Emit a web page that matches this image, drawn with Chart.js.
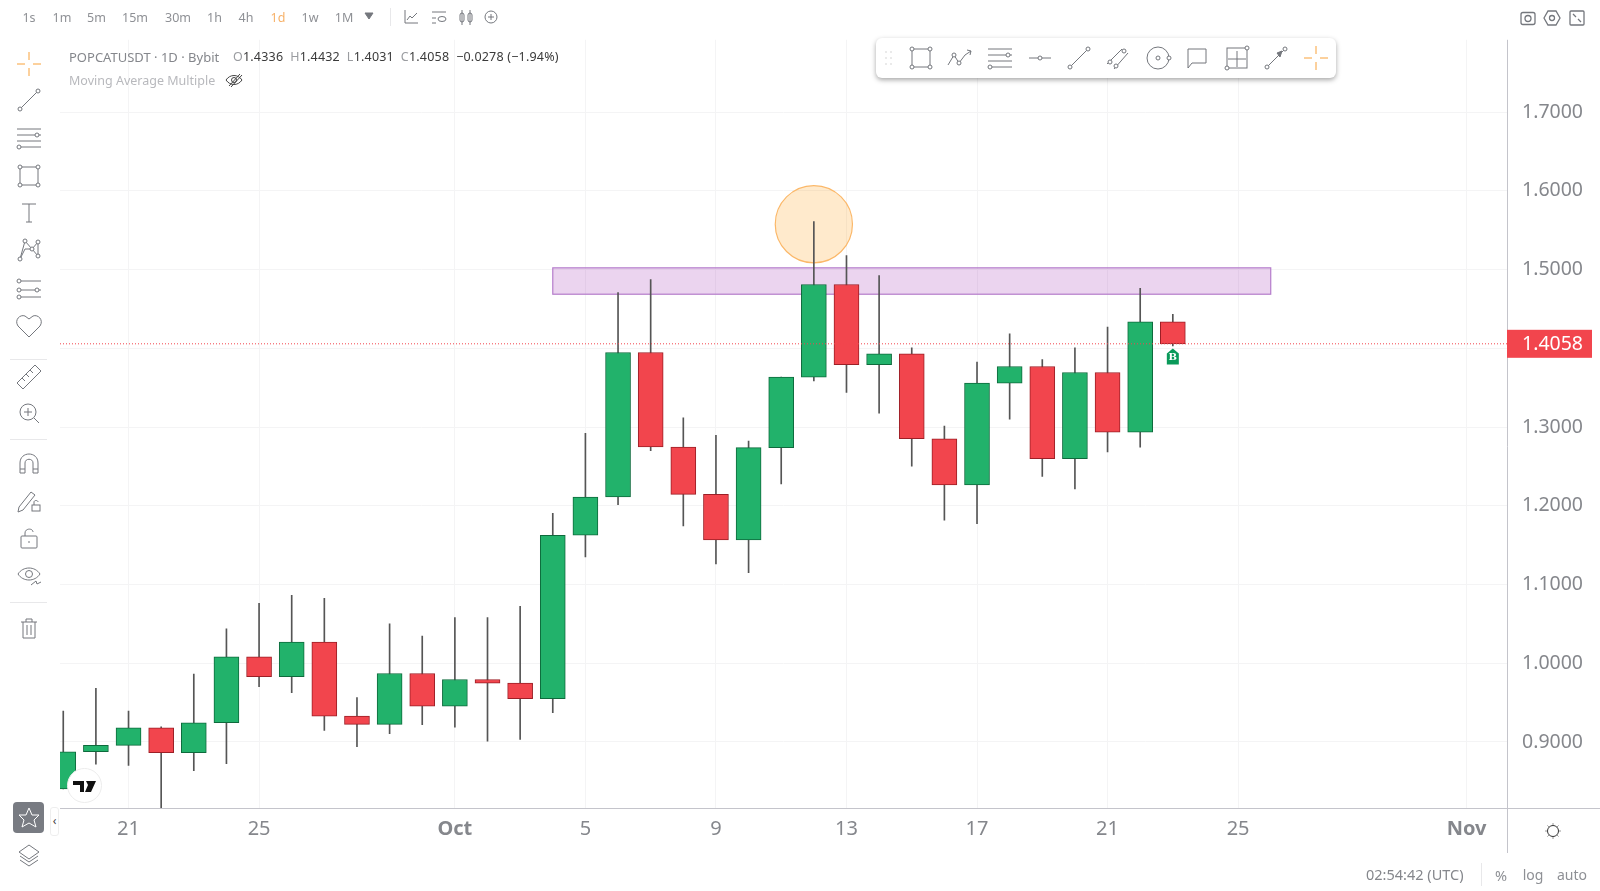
<!DOCTYPE html>
<html>
<head>
<meta charset="utf-8">
<title>POPCATUSDT</title>
<script src="https://cdn.jsdelivr.net/npm/chart.js@4"></script>
<style>
  html, body { margin: 0; padding: 0; background: #fff; overflow: hidden; }
  #wrap { position: relative; width: 1600px; height: 891px; font-family: "Noto Sans", sans-serif; }
  canvas { display: block; }
  .t { position: absolute; white-space: nowrap; line-height: 1; transform: translate(-50%, -50%); color: #8e9095; font-size: 12.5px; }
  .l { position: absolute; white-space: nowrap; line-height: 1; transform: translateY(-50%); font-size: 13px; color: #85878c; }
  .l b { font-weight: 400; color: #9a9ca0; }
  .l span { color: #3a3a3a; }
  .sep { position: absolute; background: #e8e8ea; }
  svg.i { position: absolute; overflow: visible; fill: none; stroke: #74777d; stroke-width: 1; }
  #tools { position: absolute; left: 876px; top: 38px; width: 460px; height: 40px; background: #fff; border-radius: 6px; box-shadow: 0 2px 5px rgba(0,0,0,.35); }
  #star { position: absolute; left: 13px; top: 802px; width: 31px; height: 31px; background: #787b82; border-radius: 4px; }
  #fold { position: absolute; left: 50px; top: 807px; width: 7px; height: 27px; background: #fff; border: 1px solid #eee; border-radius: 3px; font-size: 12px; line-height: 25px; text-align: center; color: #444; }
  #logo { position: absolute; left: 67px; top: 768px; width: 33px; height: 33px; background: #fff; border: 1px solid #ececec; border-radius: 50%; }
</style>
</head>
<body>
<div id="wrap">
  <canvas id="chart" width="1600" height="891"></canvas>
  <div class="l" style="left:69px;top:56.5px">POPCATUSDT · 1D · Bybit</div>
  <div class="l" style="left:233px;top:57px;font-size:12.5px;letter-spacing:.2px"><b>O</b><span>1.4336</span> <b>&nbsp;H</b><span>1.4432</span> <b>&nbsp;L</b><span>1.4031</span> <b>&nbsp;C</b><span>1.4058</span> <span>&nbsp;−0.0278 (−1.94%)</span></div>
  <div class="l" style="left:69px;top:80.5px;font-size:12.5px;color:#b8b9bd">Moving Average Multiple</div>
  <div id="tools"></div>
  <div id="star"></div>
  <div id="fold">‹</div>
  <div id="logo"></div>
</div>
<script>
// candles, one per day starting 19 Sep
const opens = [0.8402,0.8876,0.8956,0.9180,0.8863,0.9244,1.0081,0.9828,1.0268,0.9329,0.9223,0.9870,0.9455,0.9794,0.9747,0.9549,1.1626,1.2112,1.3948,1.2747,1.2146,1.1567,1.2739,1.3635,1.4811,1.3792,1.3931,1.2852,1.2264,1.3558,1.3770,1.2598,1.3694,1.2937,1.4336];
const closes = [0.8876,0.8956,0.9180,0.8863,0.9244,1.0081,0.9828,1.0268,0.9329,0.9223,0.9870,0.9455,0.9794,0.9747,0.9549,1.1626,1.2112,1.3948,1.2747,1.2146,1.1567,1.2739,1.3635,1.4811,1.3792,1.3931,1.2852,1.2264,1.3558,1.3770,1.2598,1.3694,1.2937,1.4336,1.4058];
const highs = [0.9392,0.9680,0.9392,0.9193,0.9862,1.0437,1.0761,1.0864,1.0825,0.9565,1.0502,1.0346,1.0579,1.0579,1.0722,1.1905,1.2920,1.4710,1.4875,1.3119,1.2895,1.2823,1.3635,1.5611,1.5179,1.4926,1.4008,1.3013,1.3825,1.4184,1.3859,1.4007,1.4269,1.4764,1.4432];
const lows = [0.8402,0.8719,0.8702,0.8000,0.8635,0.8724,0.9701,0.9625,0.9147,0.8939,0.9104,0.9219,0.9189,0.9011,0.9032,0.9371,1.1351,1.2015,1.2700,1.1744,1.1262,1.1152,1.2277,1.3585,1.3441,1.3178,1.2502,1.1816,1.1773,1.3102,1.2374,1.2213,1.2683,1.2746,1.4031];

const priceTicks = [0.9,1.0,1.1,1.2,1.3,1.4,1.5,1.6,1.7];
const dayTicks = [2,6,12,16,20,24,28,32,36,43];
const dayLabels = ['21','25','Oct','5','9','13','17','21','25','Nov'];

const zoneDays = [15,37];
const zonePrices = [1.4688,1.5023];
const circleDay = [23];
const circlePrice = [1.5577];
const lastPrice = 1.4058;
const buyDay = 34;

const xMin = -0.1, xMax = 44.24, yMin = 0.8161, yMax = 1.792;
const GREEN = '#22b26b', RED = '#f2454d';
const isUp = opens.map((o,i) => closes[i] >= o);

const overlayPlugin = {
  id: 'overlay',
  beforeDatasetsDraw(chart) {
    const { ctx, scales: { x, y } } = chart;
    const left = x.getPixelForValue(zoneDays[0]), right = x.getPixelForValue(zoneDays[1]);
    const top = y.getPixelForValue(zonePrices[1]), bottom = y.getPixelForValue(zonePrices[0]);
    ctx.save();
    ctx.fillStyle = 'rgba(156,39,176,0.2)';
    ctx.fillRect(left, top, right-left, bottom-top);
    ctx.strokeStyle = '#b57ccb';
    ctx.lineWidth = 1.2;
    ctx.strokeRect(left, top, right-left, bottom-top);
    ctx.restore();
  },
  afterDatasetsDraw(chart) {
    const { ctx, scales: { x, y } } = chart;
    ctx.save();
    // buy marker under the last candle
    const bx = x.getPixelForValue(buyDay), by = y.getPixelForValue(lows[buyDay]) + 3.5;
    ctx.fillStyle = '#0a9a5a';
    ctx.beginPath();
    ctx.moveTo(bx, by-1);
    ctx.lineTo(bx+6, by+4);
    ctx.lineTo(bx+6, by+15);
    ctx.lineTo(bx-6, by+15);
    ctx.lineTo(bx-6, by+4);
    ctx.closePath();
    ctx.fill();
    ctx.fillStyle = '#fff';
    ctx.font = 'bold 10px "DejaVu Serif"';
    ctx.textAlign = 'center';
    ctx.textBaseline = 'middle';
    ctx.fillText('B', bx, by+8);
    ctx.restore();
  },
  afterDraw(chart) {
    const { ctx, chartArea: a, scales: { y } } = chart;
    ctx.save();
    ctx.strokeStyle = '#c4c4cb';
    ctx.lineWidth = 1;
    ctx.beginPath();
    ctx.moveTo(a.right+0.5, a.top);
    ctx.lineTo(a.right+0.5, 853);
    ctx.moveTo(a.left, a.bottom+0.5);
    ctx.lineTo(1600, a.bottom+0.5);
    ctx.stroke();
    // last price tag on the axis
    const py = y.getPixelForValue(lastPrice);
    ctx.fillStyle = RED;
    ctx.fillRect(a.right, py-14, 85, 28);
    ctx.fillStyle = '#fff';
    ctx.font = '19.5px "Noto Sans"';
    ctx.textAlign = 'left';
    ctx.textBaseline = 'middle';
    ctx.fillText(lastPrice.toFixed(4), a.right+15, py+1);
    ctx.restore();
  }
};

new Chart(document.getElementById('chart').getContext('2d'), {
  type: 'bar',
  data: {
    datasets: [
      {
        type: 'line',
        data: [{x:xMin,y:lastPrice},{x:xMax,y:lastPrice}],
        borderColor: RED,
        borderWidth: 1,
        borderDash: [1,2],
        pointRadius: 0,
        order: 0,
      },
      {
        data: opens.map((o,i) => ({x:i,y:[o,closes[i]]})),
        backgroundColor: isUp.map(u => u ? GREEN : RED),
        borderColor: isUp.map(u => u ? '#0e6a3c' : '#9c1f26'),
        borderWidth: 1,
        borderSkipped: false,
        barThickness: 25,
        grouped: false,
        order: 2,
      },
      {
        data: lows.map((l,i) => ({x:i,y:[l,highs[i]]})),
        backgroundColor: '#555',
        borderWidth: 0,
        barThickness: 1,
        grouped: false,
        order: 3,
      },
      {
        type: 'scatter',
        data: circleDay.map((d,i) => ({x:d,y:circlePrice[i]})),
        pointRadius: 38.6,
        pointHoverRadius: 38.6,
        backgroundColor: 'rgba(255,152,0,0.2)',
        borderColor: '#fbb869',
        borderWidth: 1.2,
        order: 4,
      },
    ],
  },
  options: {
    responsive: false,
    animation: false,
    devicePixelRatio: 1,
    layout: { padding: { left: 60, top: 39, right: 0, bottom: 0 } },
    plugins: { legend: { display: false }, tooltip: { enabled: false } },
    scales: {
      x: {
        type: 'linear',
        min: xMin,
        max: xMax,
        offset: false,
        afterBuildTicks: axis => { axis.ticks = dayTicks.map(v => ({value:v})); },
        afterFit: axis => { axis.height = 83; },
        grid: { color: '#f4f4f5', offset: false, drawTicks: false },
        border: { display: false },
        ticks: {
          autoSkip: false,
          maxRotation: 0,
          padding: 9,
          color: '#85878c',
          font: ctx => ({ family: 'Noto Sans', size: 20, weight: dayLabels[ctx.index] === 'Oct' || dayLabels[ctx.index] === 'Nov' ? 'bold' : 'normal' }),
          callback: (v,i) => dayLabels[i],
        },
      },
      y: {
        position: 'right',
        min: yMin,
        max: yMax,
        afterBuildTicks: axis => { axis.ticks = priceTicks.map(v => ({value:v})); },
        afterFit: axis => { axis.width = 93; },
        grid: { color: '#f4f4f5', drawTicks: false },
        border: { display: false },
        ticks: {
          padding: 15,
          color: '#85878c',
          font: { family: 'Noto Sans', size: 19.5 },
          callback: v => v.toFixed(4),
        },
      },
    },
  },
  plugins: [overlayPlugin],
});

// page furniture around the chart
const wrap = document.getElementById('wrap');
const addText = (x,y,txt,cls,css) => {
  const d = document.createElement('div');
  d.className = cls;
  d.textContent = txt;
  d.style.cssText = `left:${x}px;top:${y}px;${css||''}`;
  wrap.appendChild(d);
};
const intervals = ['1s','1m','5m','15m','30m','1h','4h','1d','1w','1M'];
const intervalX = [29,62,96.5,135,178,214.5,246,278,310,344];
intervals.forEach((s,i) => addText(intervalX[i],18,s,'t', s === '1d' ? 'color:#f7b26a' : ''));
addText(1366,874,'02:54:42 (UTC)','l','font-size:14.5px;color:#85878c');
addText(1501,875,'%','t','font-size:14.5px');
addText(1533,875,'log','t','font-size:14px');
addText(1572,875,'auto','t','font-size:14px');

const sep = (x,y,w,h) => {
  const d = document.createElement('div');
  d.className = 'sep';
  d.style.cssText = `left:${x}px;top:${y}px;width:${w}px;height:${h}px`;
  wrap.appendChild(d);
};
sep(10,359,37,1); sep(10,439,37,1); sep(10,602,37,1); sep(1481,863,1,23); sep(390,8,1,18);

const dot = (x,y,r) => `<circle cx="${x}" cy="${y}" r="${r||2}" fill="#fff"/>`;
const ln = (a,b,c,d) => `<path d="M${a} ${b}L${c} ${d}"/>`;
const cross = ln(-12,0,-4,0)+ln(4,0,12,0)+ln(0,-12,0,-4)+ln(0,4,0,12);
const rect = '<rect x="-9" y="-9" width="18" height="18"/>'+dot(-9,-9)+dot(9,-9)+dot(-9,9)+dot(9,9);
const line = ln(-9,9,9,-9)+dot(-9,9)+dot(9,-9);
const lines = ln(-12,-9,12,-9)+ln(-12,-3,12,-3)+ln(-12,3,12,3)+ln(-12,9,12,9)+dot(8,-3)+dot(-10,9);
const paths = '<path d="M-12 7L-6 -3L-1 5L5 -3L11 -7"/><path d="M7 -8L11 -7L10 -3"/>'+dot(-6,-3)+dot(-1,5);
const icons = [
  [29,64,cross,'#f9a23b'], [29,100,line], [29,138,lines], [29,175.5,rect],
  [29,213,'<path d="M-7 -9H7M0 -9V9M-3 9H3"/>'],
  [29,250,'<path d="M-9 9L-4 -9L3 -1L9 -8L9 6L3 -1L-4 -1L-9 9"/>'+dot(-9,9)+dot(-4,-9)+dot(3,-1)+dot(9,-8)+dot(9,6)],
  [29,289,ln(-10,-8,12,-8)+ln(-10,1,12,1)+ln(-10,8,12,8)+dot(-10,-8)+dot(-10,1)+dot(8,1)+dot(-10,8)],
  [29,325.5,'<path d="M0 11L-11 0C-15 -6 -9 -12 -4 -10L0 -7L4 -10C9 -12 15 -6 11 0Z"/>'],
  [29,376.5,'<path d="M-12 6L6 -12L12 -6L-6 12Z"/>'+ln(-7,1,-4,4)+ln(-3,-3,0,0)+ln(1,-7,4,-4)],
  [29,413,'<circle cx="-1" cy="-1" r="8"/>'+ln(5,5,10,10)+ln(-5,-1,3,-1)+ln(-1,-5,-1,3)],
  [29,464,'<path d="M-9 9V-1C-9 -13 9 -13 9 -1V9H4V-1C4 -6 -4 -6 -4 -1V9Z"/>'+ln(-9,5,-4,5)+ln(4,5,9,5)],
  [29,501,'<path d="M-10 6L2 -9L6 -6L-6 9L-11 11Z"/>'+'<rect x="3" y="4" width="8" height="6"/><path d="M5 4V1C5 -1 9 -1 9 1"/>'],
  [29,539,'<rect x="-8" y="-3" width="16" height="12" rx="1"/><path d="M-4 -3V-6C-4 -11 4 -11 4 -7"/>'+ln(0,2,0,4)],
  [29,575.5,'<path d="M-11 -2C-6 -10 6 -10 11 -2C6 6 -6 6 -11 -2Z"/><circle cx="0" cy="-2" r="3.5"/><path d="M2 9L7 5L8 8L12 6"/>'],
  [29,627.5,'<path d="M-8 -6H8M-3 -6V-9H3V-6M-6 -6V10H6V-6M-2 -3V7M2 -3V7"/>'],
  [28.5,817.5,'<path d="M0 -10L3 -3L10 -3L5 2L7 9L0 5L-7 9L-5 2L-10 -3L-3 -3Z"/>','#fff'],
  [29,855,'<path d="M0 -10L10 -3L0 4L-10 -3ZM-9 1L0 7L9 1M-9 5L0 11L9 5"/>'],
  [234,80,'<path d="M-8 0C-4 -6 4 -6 8 0C4 6 -4 6 -8 0Z"/><circle r="2.5"/>'+ln(-5,6,6,-6)+ln(-3,7,8,-5),'#444'],
  [369,17,'<path d="M-4 -4H4L0 2Z" fill="#74777d"/>'],
  [411,17,'<path d="M-6 -7V6H7M-4 3L-1 -1L1 1L6 -4"/>'],
  [439,17,'<path d="M-7 -5H7M-7 1H-3M-7 6H-3"/><ellipse cx="3" cy="2" rx="4" ry="2.5"/>'],
  [466,17,'<rect x="-6" y="-4" width="4" height="9" rx="2"/><rect x="2" y="-4" width="4" height="9" rx="2"/>'+ln(-4,-7,-4,8)+ln(4,-7,4,8)],
  [491,17,'<circle r="6"/>'+ln(-3,0,3,0)+ln(0,-3,0,3)],
  [1528,17.5,'<rect x="-7" y="-5.5" width="14" height="12" rx="2" stroke-width="1.3"/><circle r="3" cy="0.5" stroke-width="1.3"/>'],
  [1552,17.5,'<path d="M-8 0L-4 -7H4L8 0L4 7H-4Z" stroke-width="1.3"/><circle r="2.5" stroke-width="1.3"/>'],
  [1577,17.5,'<rect x="-7" y="-7" width="14" height="14" rx="1" stroke-width="1.3"/><path d="M-4 -4L-1 -1M1 1L4 4" stroke-width="1.3"/>'],
  [888,58,'<path d="M-2.5 -6h1M2.5 -6h1M-2.5 0h1M2.5 0h1M-2.5 6h1M2.5 6h1" stroke="#aaa"/>'],
  [921,58,rect], [960,58,paths], [1000,58,lines], [1040,58,ln(-11,0,11,0)+dot(0,0)],
  [1079,58,line], [1118,58,ln(-11,6,4,-9)+ln(-4,11,10,-5)+dot(-8,4)+dot(6,-7)+dot(-2,8)],
  [1158,58,'<circle r="11"/>'+dot(0,0)+dot(11,0)],
  [1197,58,'<path d="M-9 -9H9V5H-5L-9 10Z"/>'],
  [1237,58,'<rect x="-10" y="-10" width="20" height="20"/>'+ln(-9,1,9,1)+ln(0,-7,0,9)+dot(10,-10)+dot(-10,10)],
  [1276,58,ln(-9,9,9,-9)+'<path d="M6 -7L1 -5L4 -1Z" fill="#74777d"/>'+dot(-9,9)+dot(9,-9)],
  [1316,58,cross,'#f9a23b'],
  [1553,831,'<circle r="5.5" stroke="#333"/><path d="M0 -7.5v1M0 6.5v1M-7.5 0h1M6.5 0h1M-5.3 -5.3l.8 .8M4.5 4.5l.8 .8M-5.3 5.3l.8 -.8M4.5 -4.5l.8 -.8" stroke="#333"/>'],
];
const NS = 'http://www.w3.org/2000/svg';
icons.forEach(([x,y,body,color]) => {
  const s = document.createElementNS(NS,'svg');
  s.setAttribute('class','i');
  s.setAttribute('width','2');
  s.setAttribute('height','2');
  s.setAttribute('viewBox','-1 -1 2 2');
  s.style.left = (x-1)+'px';
  s.style.top = (y-1)+'px';
  s.style.zIndex = 3;
  if (color) s.style.stroke = color;
  s.innerHTML = body;
  wrap.appendChild(s);
});

// TV mark inside the logo bubble
document.getElementById('logo').innerHTML =
  '<svg width="33" height="33" viewBox="0 0 33 33"><path d="M5 12H16V23H12V16H5ZM18 12H28L23 23H17L20 16Z" fill="#111"/></svg>';
</script>
</body>
</html>
